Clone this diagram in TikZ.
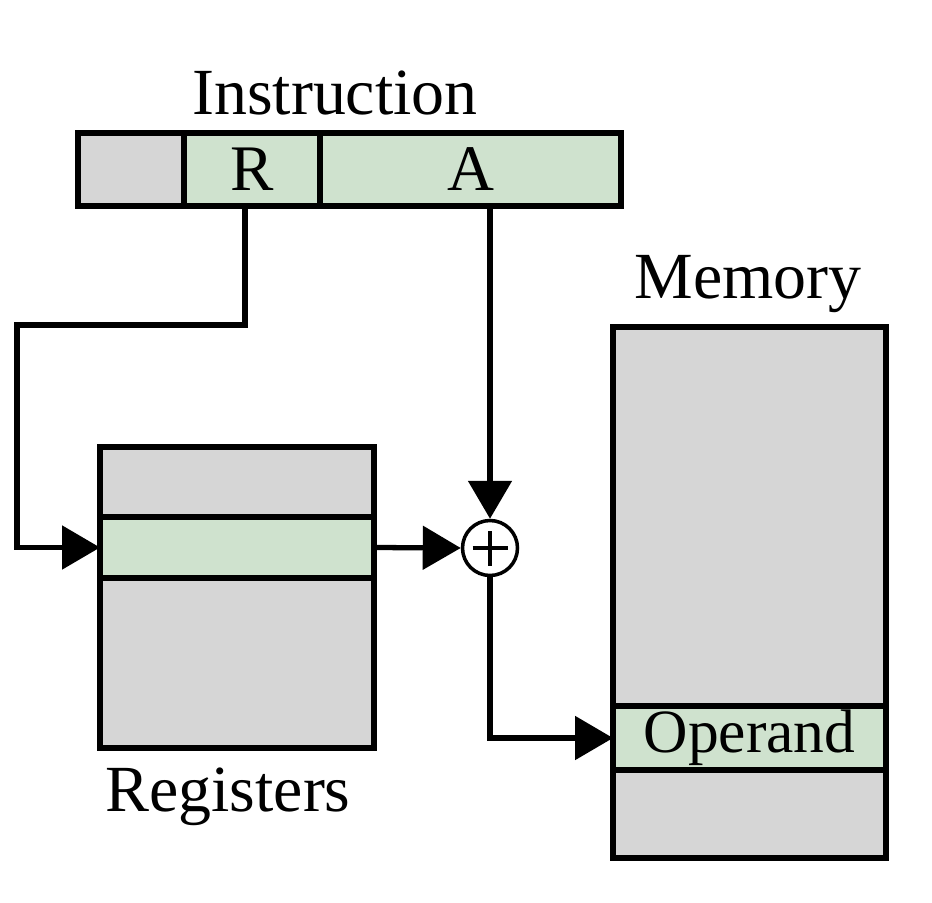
\documentclass[tikz,border=0pt]{standalone}
\usepackage{fontspec}
\setmainfont{Liberation Serif}
\usetikzlibrary{arrows.meta}
\definecolor{cellgray}{HTML}{D6D6D6}
\definecolor{cellgreen}{HTML}{CFE2CE}
\tikzset{
  cell/.style={draw,line width=3.3pt,rectangle,inner sep=0pt,outer sep=0pt,font=\fontsize{37}{40}\selectfont},
  grey cell/.style={cell,fill=cellgray},
  green cell/.style={cell,fill=cellgreen},
  wire/.style={line width=3pt,-{Triangle[length=0.76cm,width=0.86cm]}},
  caption/.style={font=\fontsize{37.5}{40}\selectfont,inner sep=0pt}
}
\begin{document}
\begin{tikzpicture}[x=0.02cm,y=-0.02cm]
  \useasboundingbox (0,0) rectangle (932,902);

  % instruction word
  \node[grey cell,minimum width=2.12cm,minimum height=1.46cm] (op) at (131,169.5) {};
  \node[green cell,minimum width=2.72cm,minimum height=1.46cm] (rfield) at (252,169.5) {R};
  \node[green cell,minimum width=6.02cm,minimum height=1.46cm] (afield) at (470.5,169.5) {A};
  \node[caption] (instr) at (335,93) {Instruction};

  % registers
  \node[grey cell,minimum width=5.48cm,minimum height=1.4cm] (reg1) at (237,482) {};
  \node[green cell,minimum width=5.48cm,minimum height=1.22cm] (reg2) at (237,547.5) {};
  \node[grey cell,minimum width=5.48cm,minimum height=3.4cm] (reg3) at (237,663) {};
  \node[caption] (regs) at (228,797) {Registers};

  % memory
  \node[grey cell,minimum width=5.46cm,minimum height=7.58cm] (mem1) at (749.5,516.5) {};
  \node[green cell,minimum width=5.46cm,minimum height=1.28cm,font=\fontsize{35}{38}\selectfont] (mem2) at (749.5,738) {Operand};
  \node[grey cell,minimum width=5.46cm,minimum height=1.76cm] (mem3) at (749.5,814) {};
  \node[caption] (memlbl) at (748,284) {Memory};

  % adder
  \node[draw,circle,line width=2pt,minimum size=1.1cm,inner sep=0pt,fill=white] (add) at (490,548) {};
  \draw[line width=2pt] ([xshift=-0.35cm]add.center) -- ([xshift=0.35cm]add.center);
  \draw[line width=2pt] ([yshift=-0.35cm]add.center) -- ([yshift=0.35cm]add.center);

  \coordinate (rbend1) at (245,325);
  \coordinate (rbend2) at (17,325);
  \coordinate (rbend3) at (17,547.5);
  \coordinate (obend) at (490,738);

  \draw[wire] (rfield.south -| rbend1) -- (rbend1) -- (rbend2) -- (rbend3) -- (reg2.west);
  \draw[wire] (afield.south -| add) -- (add.north);
  \draw[wire] (reg2.east) -- (add.west);
  \draw[wire] (add.south) -- (obend) -- (mem2.west);
\end{tikzpicture}
\end{document}
